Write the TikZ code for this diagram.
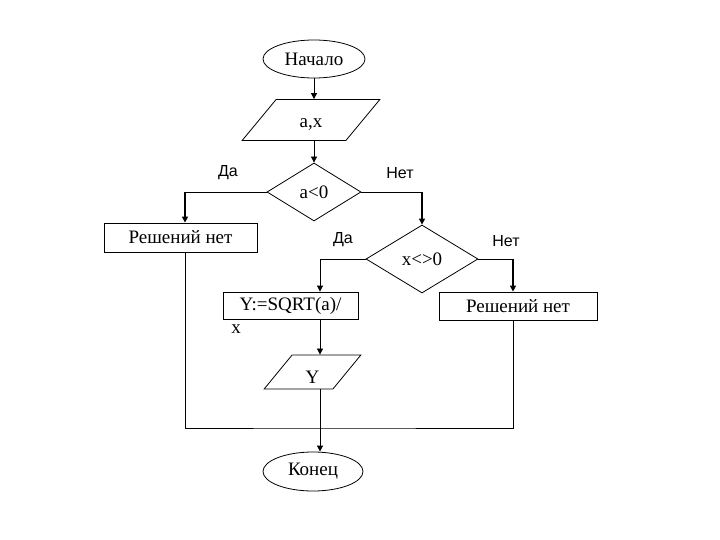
\documentclass[tikz,border=0pt]{standalone}
\usepackage{fontspec}
\setmainfont{Liberation Serif}
\newfontfamily\labelfont{Liberation Sans}
\usetikzlibrary{shapes.geometric,arrows.meta}

\begin{document}
\begin{tikzpicture}[x=1pt,y=-1pt,line width=0.8pt,
  font=\fontsize{19}{21}\selectfont,
  >={Triangle[length=6pt,width=6pt]},
  term/.style={draw,ellipse,inner sep=0pt},
  io/.style={draw,trapezium,trapezium stretches=true,inner sep=0pt},
  decision/.style={draw,diamond,inner sep=0pt},
  proc/.style={draw,rectangle,inner sep=0pt},
  lbl/.style={font=\labelfont\fontsize{16}{18}\selectfont},
  branch/.style={line width=1.8pt}]
\useasboundingbox (0,0) rectangle (720,540);

% blocks
\node [term,minimum width=102pt,minimum height=38pt] (start) at (314,59) {Начало};
\node [io,trapezium left angle=47,trapezium right angle=133,
  minimum width=138pt,minimum height=41pt] (inp) at (311,120) {\raisebox{-5pt}[\height][\depth]{a,x}};
\node [decision,minimum width=94pt,minimum height=58pt] (cond1) at (314,192) {a<0};
\node [proc,minimum width=153pt,minimum height=29pt] (no1) at (180.5,237.5) {Решений нет};
\node [decision,minimum width=112pt,minimum height=68pt] (cond2) at (422,259) {x<>0};
\node [proc,minimum width=158pt,minimum height=28pt] (no2) at (518,306) {Решений нет};
\node [proc,minimum width=135pt,minimum height=27pt] (calc) at (290.5,305.5) {Y:=SQRT(a)/};
\node (xlab) at (236,329) {x};
\node [io,trapezium left angle=53,trapezium right angle=127,
  minimum width=97pt,minimum height=34pt] (out) at (312.5,372) {\raisebox{-5pt}[\height][\depth]{Y}};
\node [term,minimum width=100pt,minimum height=39pt] (end) at (313,471.5) {Конец};

% branch labels
\node [lbl] (yes1) at (228,173) {Да};
\node [lbl] (not1) at (400,173) {Нет};
\node [lbl] (yes2) at (343,240) {Да};
\node [lbl] (not2) at (506,241) {Нет};

% columns
\coordinate (lcol) at (185,0);
\coordinate (col) at (320,0);
\coordinate (rcol) at (513,0);
\coordinate (join) at (320,428);

% connectors
\draw [->] (start) -- (start |- inp.north);
\draw [->] (inp.south -| start) -- (cond1.north);
\draw (cond1.west) -- (cond1.west -| lcol) coordinate (l1);
\draw [branch,->] (l1) -- (no1.north -| lcol);
\draw (cond1.east) -- (cond1.east -| cond2) coordinate (r1);
\draw [branch,->] (r1) -- (cond2.north);
\draw [->] (cond2.west) -| (calc.north -| col);
\draw (cond2.east) -- (cond2.east -| rcol) coordinate (r2);
\draw [branch,->] (r2) -- (no2.north -| rcol);
\draw [->] (calc.south -| col) -- (out.north -| col);
\draw (no1.south -| lcol) |- (join) -| (no2.south -| rcol);
\draw [->] (out.south -| col) -- (end.north -| col);

\end{tikzpicture}
\end{document}
